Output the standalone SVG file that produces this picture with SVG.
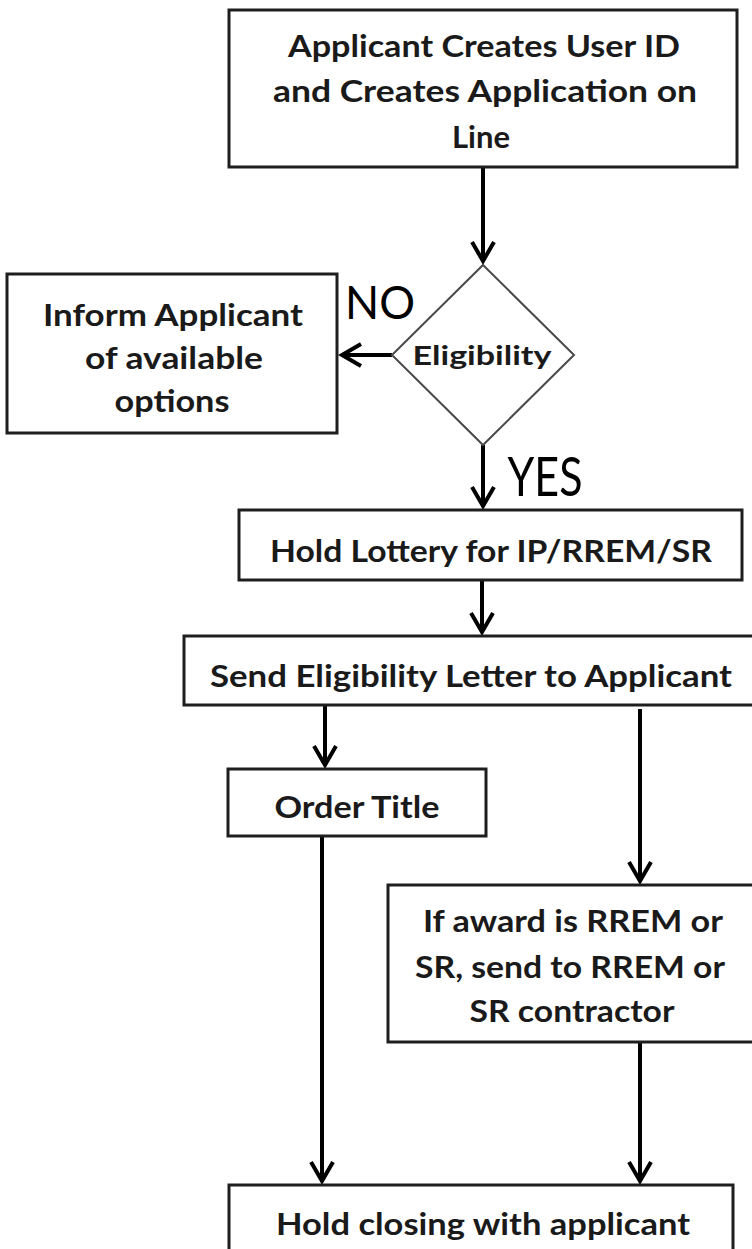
<svg xmlns="http://www.w3.org/2000/svg" width="752" height="1249" viewBox="0 0 752 1249">
<defs>
<style>
.box{fill:#fff;stroke:#1e1e1e;stroke-width:3}
.dia{fill:#fff;stroke:#4a4a4a;stroke-width:2}
.t{font-family:Lato,"Liberation Sans",sans-serif;font-weight:bold;font-size:31px;fill:#1a1a1a;text-anchor:middle}
.lbl{font-family:Lato,"Liberation Sans",sans-serif;font-weight:normal;fill:#000;text-anchor:middle}
.c{fill:none;stroke:#000;stroke-width:4}
</style>
<marker id="arr" markerUnits="userSpaceOnUse" viewBox="-24 -16 28 32" markerWidth="28" markerHeight="32" refX="0" refY="0" orient="auto">
<path d="M -19 -11 L 0 0 L -19 11" fill="none" stroke="#000" stroke-width="4"/>
</marker>
</defs>
<rect width="752" height="1249" fill="#fff"/>
<g id="connectors">
<path class="c" d="M 483 168 L 483 261" marker-end="url(#arr)"/>
<path class="c" d="M 392 355 L 342 355" marker-end="url(#arr)"/>
<path class="c" d="M 483 445 L 483 506" marker-end="url(#arr)"/>
<path class="c" d="M 482 581 L 482 632" marker-end="url(#arr)"/>
<path class="c" d="M 325 706 L 325 765" marker-end="url(#arr)"/>
<path class="c" d="M 640 709 L 640 881" marker-end="url(#arr)"/>
<path class="c" d="M 322 837 L 322 1181" marker-end="url(#arr)"/>
<path class="c" d="M 640 1043 L 640 1181" marker-end="url(#arr)"/>
</g>
<g id="n-create">
<rect class="box" x="229" y="10" width="508" height="157"/>
<text class="t" x="484" y="57" textLength="392" lengthAdjust="spacingAndGlyphs">Applicant Creates User ID</text>
<text class="t" x="485" y="102" textLength="424" lengthAdjust="spacingAndGlyphs">and Creates Application on</text>
<text class="t" x="481" y="148">Line</text>
</g>
<g id="n-eligibility">
<polygon class="dia" points="483,265 574,355 483,445 392,355"/>
<text class="t" x="482" y="365" style="font-size:27px" textLength="139" lengthAdjust="spacingAndGlyphs">Eligibility</text>
</g>
<g id="n-inform">
<rect class="box" x="7" y="274" width="330" height="159"/>
<text class="t" x="173" y="326" textLength="260" lengthAdjust="spacingAndGlyphs">Inform Applicant</text>
<text class="t" x="174" y="369" textLength="178" lengthAdjust="spacingAndGlyphs">of available</text>
<text class="t" x="172" y="412" textLength="115" lengthAdjust="spacingAndGlyphs">options</text>
</g>
<g id="labels">
<text class="lbl" x="380" y="319" style="font-size:46px" textLength="70" lengthAdjust="spacingAndGlyphs">NO</text>
<text class="lbl" x="545" y="496" style="font-size:54px" textLength="75" lengthAdjust="spacingAndGlyphs">YES</text>
</g>
<g id="n-lottery">
<rect class="box" x="239" y="510" width="503" height="70"/>
<text class="t" x="491" y="562" textLength="442" lengthAdjust="spacingAndGlyphs">Hold Lottery for IP/RREM/SR</text>
</g>
<g id="n-letter">
<rect class="box" x="184" y="636" width="600" height="69"/>
<text class="t" x="471" y="687" textLength="522" lengthAdjust="spacingAndGlyphs">Send Eligibility Letter to Applicant</text>
</g>
<g id="n-title">
<rect class="box" x="228" y="769" width="258" height="67"/>
<text class="t" x="357" y="818" textLength="165" lengthAdjust="spacingAndGlyphs">Order Title</text>
</g>
<g id="n-contractor">
<rect class="box" x="388" y="885" width="400" height="157"/>
<text class="t" x="573" y="932" textLength="300" lengthAdjust="spacingAndGlyphs">If award is RREM or</text>
<text class="t" x="570" y="978" textLength="310" lengthAdjust="spacingAndGlyphs">SR, send to RREM or</text>
<text class="t" x="572" y="1022" textLength="205" lengthAdjust="spacingAndGlyphs">SR contractor</text>
</g>
<g id="n-closing">
<rect class="box" x="229" y="1185" width="504" height="100"/>
<text class="t" x="483" y="1235" textLength="414" lengthAdjust="spacingAndGlyphs">Hold closing with applicant</text>
</g>
</svg>
